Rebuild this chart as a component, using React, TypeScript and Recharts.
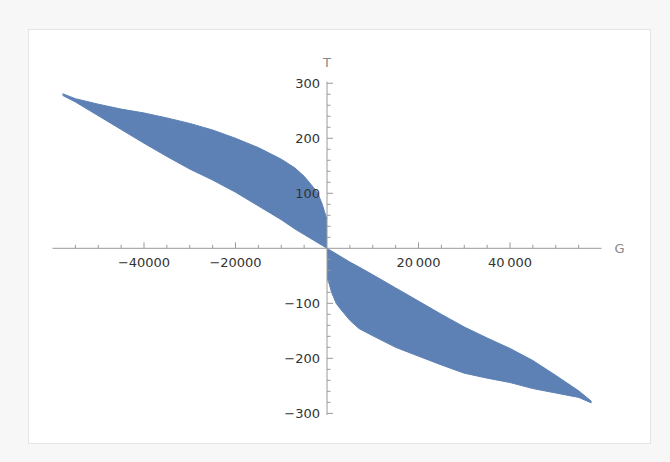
import React from "react";
import { ComposedChart, Area, XAxis, YAxis, ReferenceLine } from "recharts";

// left lobe (G < 0): lower and upper edge of the filled region
const gLeft = [-57800, -55000, -50000, -45000, -40000, -35000, -30000, -25000, -20000, -15000, -10000, -7000, -5000, -3000, -2000, -1000, -500, -200, 0];
const tLeftLow = [278, 266, 241, 216, 191, 167, 144, 124, 102, 77, 52, 35, 25, 15, 10, 5, 2.5, 1, 0];
const tLeftHigh = [281, 272, 262, 253, 246, 237, 227, 215, 200, 183, 162, 146, 131, 111, 100, 79, 65, 58, 55];

// right lobe (G > 0)
const gRight = [0, 200, 500, 1000, 2000, 3000, 5000, 7000, 10000, 15000, 20000, 25000, 30000, 35000, 40000, 45000, 50000, 55000, 57800];
const tRightLow = [-55, -58, -65, -80, -100, -111, -131, -146, -159, -180, -196, -212, -227, -236, -244, -255, -263, -271, -281];
const tRightHigh = [0, -1, -2.5, -5, -10, -15, -25, -34, -48, -72, -96, -120, -143, -163, -182, -204, -231, -259, -278];

const xTicks = [-55000, -50000, -45000, -40000, -35000, -30000, -25000, -20000, -15000, -10000, -5000, 5000, 10000, 15000, 20000, 25000, 30000, 35000, 40000, 45000, 50000, 55000];
const xMajor = [-40000, -20000, 20000, 40000];
const xMajorLabels = ["\u221240000", "\u221220000", "20\u2009000", "40\u2009000"];

const yTicks = [-300, -280, -260, -240, -220, -200, -180, -160, -140, -120, -100, -80, -60, -40, -20, 20, 40, 60, 80, 100, 120, 140, 160, 180, 200, 220, 240, 260, 280, 300];
const yMajor = [-300, -200, -100, 100, 200, 300];
const yMajorLabels = ["\u2212300", "\u2212200", "\u2212100", "100", "200", "300"];

const data = [
  ...gLeft.map((g, i) => ({ g, left: [tLeftLow[i], tLeftHigh[i]], right: null })),
  ...gRight.map((g, i) => ({ g, left: null, right: [tRightLow[i], tRightHigh[i]] })),
];

const W = 670;
const H = 462;
const X_AXIS_H = 30;
const Y_AXIS_W = 40;
// plot area: x 52.5..601.5, y 81.6..415
const margin = { top: 81.6, right: 68.5, bottom: 47 - X_AXIS_H, left: 52.5 - Y_AXIS_W };
const PLOT_L = 52.5;
const PLOT_R = W - 68.5;
const PLOT_T = 81.6;
const PLOT_B = H - 47;
const ZERO_X = (PLOT_L + PLOT_R) / 2;
const ZERO_Y = (PLOT_T + PLOT_B) / 2;

const AXIS = "#9a9a9a";
const FONT = "DejaVu Sans, sans-serif";
const FILL = "#5E81B5";

const XTick = (props: any) => {
  const { x, payload } = props;
  const i = xMajor.indexOf(payload.value);
  const major = i >= 0;
  return (
    <g>
      <line x1={x} x2={x} y1={ZERO_Y} y2={ZERO_Y - (major ? 6 : 3.5)} stroke={AXIS} strokeWidth={1} />
      {major && (
        <text x={x} y={ZERO_Y + 18.5} textAnchor="middle" fontSize={13} fontFamily={FONT} fill="#333">
          {xMajorLabels[i]}
        </text>
      )}
    </g>
  );
};

const YTick = (props: any) => {
  const { y, payload } = props;
  const i = yMajor.indexOf(payload.value);
  const major = i >= 0;
  return (
    <g>
      <line x1={ZERO_X} x2={ZERO_X + (major ? 6 : 3.5)} y1={y} y2={y} stroke={AXIS} strokeWidth={1} />
      {major && (
        <text x={ZERO_X - 7} y={y + 4.6} textAnchor="end" fontSize={13} fontFamily={FONT} fill="#333">
          {yMajorLabels[i]}
        </text>
      )}
    </g>
  );
};

export default function App() {
  return (
    <div style={{ position: "absolute", left: 0, top: 0, width: W, height: H, background: "#f7f7f7" }}>
      <div
        style={{
          position: "absolute",
          left: 28,
          top: 29,
          width: 623,
          height: 415,
          background: "#fff",
          border: "1px solid #e4e4e4",
          boxSizing: "border-box",
        }}
      />
      <div style={{ position: "absolute", left: 0, top: 0 }}>
        <ComposedChart width={W} height={H} data={data} margin={margin}>
          <Area
            type="linear"
            dataKey="left"
            stroke={FILL}
            strokeWidth={1}
            fill={FILL}
            fillOpacity={1}
            isAnimationActive={false}
            dot={false}
            activeDot={false}
          />
          <Area
            type="linear"
            dataKey="right"
            stroke={FILL}
            strokeWidth={1}
            fill={FILL}
            fillOpacity={1}
            isAnimationActive={false}
            dot={false}
            activeDot={false}
          />
          <XAxis
            type="number"
            dataKey="g"
            domain={[-60000, 60000]}
            ticks={xTicks}
            interval={0}
            height={X_AXIS_H}
            axisLine={false}
            tickLine={false}
            tick={XTick}
            allowDataOverflow
          />
          <YAxis
            type="number"
            domain={[-303, 303]}
            ticks={yTicks}
            interval={0}
            width={Y_AXIS_W}
            axisLine={false}
            tickLine={false}
            tick={YTick}
            allowDataOverflow
          />
          <ReferenceLine
            y={0}
            stroke={AXIS}
            strokeWidth={1}
            label={{ value: "G", position: "right", offset: 13, fill: "#888", fontSize: 13, fontFamily: FONT }}
          />
          <ReferenceLine
            x={0}
            stroke={AXIS}
            strokeWidth={1}
            label={{ value: "T", position: "top", offset: 15, fill: "#888", fontSize: 13, fontFamily: FONT }}
          />
        </ComposedChart>
      </div>
    </div>
  );
}
